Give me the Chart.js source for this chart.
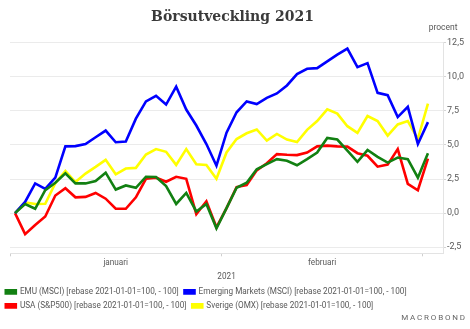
<!DOCTYPE html>
<html lang="sv">
<head>
  <meta charset="UTF-8" />
  <title>Börsutveckling 2021</title>
  <script src="https://cdn.jsdelivr.net/npm/chart.js"></script>
  <style>
    body { margin: 0; background: #fff; }
    #wrap { width: 470px; height: 329px; }
  </style>
</head>
<body>
  <div id="wrap"><canvas id="chart" width="470" height="329"></canvas></div>

  <script>
    // trading days 2021-01-01 .. 2021-03-01, index 0..41
    const emu = [0, 0.67, 0.32, 1.68, 2.23, 2.92, 2.18, 2.18, 2.35, 2.97, 1.73, 2.03, 1.86, 2.67, 2.65, 1.98, 0.67, 1.48, 0.12, 0.67, -1.11, 0.37, 1.86, 2.23, 3.22, 3.59, 3.96, 3.84, 3.51, 3.96, 4.45, 5.52, 5.4, 4.58, 3.76, 4.63, 4.13, 3.71, 4.08, 3.96, 2.6, 4.4];
    const emerging = [0, 0.82, 2.18, 1.78, 2.6, 4.9, 4.92, 5.07, 5.57, 6.06, 5.2, 5.25, 6.93, 8.2, 8.61, 7.97, 9.28, 7.6, 6.43, 5.07, 3.48, 5.9, 7.4, 8.2, 8.0, 8.46, 8.78, 9.37, 10.2, 10.59, 10.64, 11.14, 11.63, 12.08, 10.71, 11.01, 8.83, 8.66, 7.05, 7.8, 5.07, 6.68];
    const usa = [0, -1.54, -0.87, -0.25, 1.29, 1.83, 1.16, 1.19, 1.48, 1.06, 0.32, 0.32, 1.16, 2.52, 2.6, 2.3, 2.67, 2.52, -0.07, 0.87, -1.04, 0.37, 1.91, 2.06, 3.14, 3.66, 4.33, 4.28, 4.26, 4.45, 4.9, 4.95, 4.9, 4.88, 4.4, 4.21, 3.41, 3.56, 4.7, 2.15, 1.68, 4.0];
    const sverige = [0, 0.79, 0.67, 0.69, 2.2, 3.09, 2.28, 2.9, 3.39, 3.91, 2.85, 3.27, 3.32, 4.3, 4.7, 4.5, 3.54, 4.7, 3.59, 3.54, 2.52, 4.45, 5.44, 5.86, 6.14, 5.32, 5.81, 5.4, 5.22, 6.11, 6.76, 7.62, 7.3, 6.38, 5.89, 7.13, 6.76, 5.69, 6.51, 6.76, 5.44, 8.04];

    const seriesNames = [
      'EMU (MSCI) [rebase 2021-01-01=100, - 100]',
      'Emerging Markets (MSCI) [rebase 2021-01-01=100, - 100]',
      'USA (S&P500) [rebase 2021-01-01=100, - 100]',
      'Sverige (OMX) [rebase 2021-01-01=100, - 100]'
    ];
    const seriesColors = ['#128012', '#0000ff', '#ff0000', '#ffff00'];

    const monthLabels = ['januari', 'februari'];
    const monthBounds = [-0.5, 20.5, 40.5];   // left edge of first trading day in jan, feb, mar
    const yTicks = [-2.5, 0, 2.5, 5, 7.5, 10, 12.5];

    const toPoints = arr => arr.map((v, i) => ({ x: i, y: v }));
    const allSeries = [emu, emerging, usa, sverige];

    const gray = '#595959';

    const extras = {
      id: 'extras',
      afterDraw(chart) {
        const c = chart.ctx, a = chart.chartArea;
        c.save();
        c.fillStyle = gray;
        c.font = '8.5px Roboto';
        c.textAlign = 'center';
        c.textBaseline = 'middle';
        c.fillText('procent', a.right, 28);
        // logo text, spaced out by hand
        c.font = '8px Roboto';
        c.fillStyle = '#666';
        c.textAlign = 'left';
        const word = 'MACROBOND', gap = 1.8;
        let w = 0;
        for (const ch of word) w += c.measureText(ch).width + gap;
        let x = 465 - w + gap;
        for (const ch of word) {
          c.fillText(ch, x, 318);
          x += c.measureText(ch).width + gap;
        }
        c.restore();
      }
    };

    new Chart(document.getElementById('chart'), {
      type: 'line',
      data: {
        datasets: allSeries.map((s, i) => ({
          label: seriesNames[i],
          data: toPoints(s),
          borderColor: seriesColors[i],
          backgroundColor: seriesColors[i],
          borderWidth: 2.6,
          pointRadius: 0,
          tension: 0,
          fill: false
        }))
      },
      options: {
        responsive: false,
        animation: false,
        layout: { padding: { left: 0, right: 5, top: 0, bottom: 9 } },
        plugins: {
          title: {
            display: true,
            text: 'Börsutveckling 2021',
            color: '#3a3a3a',
            font: { family: 'DejaVu Serif', size: 14, weight: 'bold' },
            padding: { top: 9, bottom: 17 }
          },
          legend: {
            position: 'bottom',
            align: 'start',
            labels: {
              boxWidth: 10,
              boxHeight: 3,
              padding: 5.8,
              color: gray,
              font: { family: 'Roboto', size: 8.2 }
            }
          },
          tooltip: { enabled: false }
        },
        scales: {
          x: {
            type: 'linear',
            min: -0.5,
            max: 42.5,
            afterFit: axis => { axis.paddingLeft = 10; },
            afterBuildTicks: axis => {
              const t = [];
              monthBounds.forEach((b, i) => {
                t.push({ value: b });
                if (i < monthLabels.length) t.push({ value: (b + monthBounds[i + 1]) / 2 });
              });
              axis.ticks = t;
            },
            ticks: {
              color: gray,
              font: { family: 'Roboto', size: 8.2 },
              maxRotation: 0,
              autoSkip: false,
              padding: 2,
              callback: function (v) {
                const i = monthBounds.findIndex((b, k) => k < monthLabels.length && v === (b + monthBounds[k + 1]) / 2);
                return i >= 0 ? monthLabels[i] : '';
              }
            },
            grid: {
              drawOnChartArea: false,
              tickLength: 3,
              tickColor: ctx => monthBounds.includes(ctx.tick.value) ? '#cfcfcf' : 'transparent'
            },
            border: { color: '#e3e3e3' },
            title: {
              display: true,
              text: '2021',
              color: gray,
              font: { family: 'Roboto', size: 8.2 },
              padding: { top: 2, bottom: 0 }
            }
          },
          y: {
            position: 'right',
            min: -2.95,
            max: 12.5,
            afterBuildTicks: axis => { axis.ticks = yTicks.map(v => ({ value: v })); },
            ticks: {
              color: gray,
              font: { family: 'Roboto', size: 9 },
              padding: 1,
              callback: v => v.toFixed(1).replace('.', ',')
            },
            grid: { color: '#ebebeb', tickLength: 3, tickColor: '#d5d5d5' },
            border: { color: '#e3e3e3' }
          }
        }
      },
      plugins: [extras]
    });
  </script>
</body>
</html>
